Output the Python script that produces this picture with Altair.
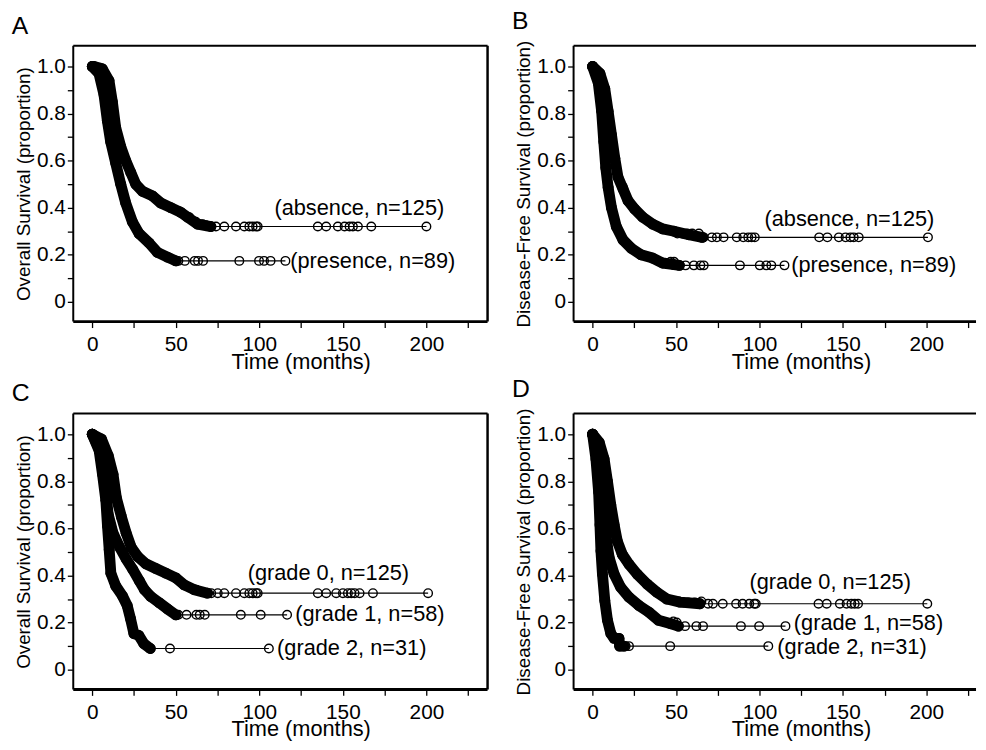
import altair as alt
import pandas as pd

FONT = "Liberation Sans"

# axis extents
X_MIN = -11.4
X_MAX_LEFT = 236.6     # panels A, C (full frame)
X_MAX_RIGHT = 229.8    # panels B, D (cut off at the page edge)
Y_MIN = -0.084
Y_MAX = 1.088
X_TICKS = [0, 25, 50, 75, 100, 125, 150, 175, 200, 225]
Y_TICKS = [0, 0.1, 0.2, 0.3, 0.4, 0.5, 0.6, 0.7, 0.8, 0.9, 1.0]

# ---------------- Panel A : Overall survival, absence / presence ----------------
A_abs_t = [0, 1, 6, 10, 12, 14, 17, 20, 23, 26, 30, 36, 41, 47, 53, 57, 63, 71]
A_abs_s = [1.0, 1.0, 0.99, 0.94, 0.85, 0.74, 0.66, 0.60, 0.55, 0.50, 0.47, 0.45, 0.42, 0.40, 0.38, 0.36, 0.33, 0.32]
A_abs_end = [200, 0.32]
A_abs_ct = [0, 47, 52, 58, 62, 66, 68, 74, 79, 86, 91, 94, 96, 98, 99, 135, 140, 147, 151, 154, 156, 159, 167, 200]
A_abs_cs = [1.0, 0.40, 0.385, 0.36, 0.34, 0.33, 0.325, 0.32, 0.32, 0.32, 0.32, 0.32, 0.32, 0.32, 0.32, 0.32, 0.32, 0.32, 0.32, 0.32, 0.32, 0.32, 0.32, 0.32]

A_pre_t = [0, 4, 7, 9, 11, 14, 17, 20, 24, 28, 34, 39, 45, 50]
A_pre_s = [1.0, 0.97, 0.88, 0.77, 0.68, 0.59, 0.50, 0.42, 0.34, 0.29, 0.25, 0.21, 0.19, 0.174]
A_pre_end = [115.6, 0.174]
A_pre_ct = [51.5, 55.4, 61.3, 63.3, 66.3, 88, 99.8, 102.8, 106.7, 115.6]
A_pre_cs = [0.174, 0.174, 0.174, 0.174, 0.174, 0.174, 0.174, 0.174, 0.174, 0.174]

A_lab_text = ["(absence, n=125)", "(presence, n=89)"]
A_lab_t = [109, 118.5]
A_lab_s = [0.40, 0.172]

# ---------------- Panel B : Disease-free survival, absence / presence ----------------
B_abs_t = [0, 4.4, 7.3, 9.3, 11.3, 13.3, 15.2, 18.2, 21.2, 25.1, 30, 36, 42, 48.8, 57.7, 65.7]
B_abs_s = [1.0, 0.97, 0.905, 0.81, 0.71, 0.61, 0.53, 0.48, 0.43, 0.395, 0.36, 0.33, 0.31, 0.30, 0.285, 0.274]
B_abs_end = [201, 0.274]
B_abs_ct = [18, 50.8, 53.8, 56.7, 59.7, 63.7, 66.6, 71.5, 74.5, 78.5, 86.4, 90.3, 93.3, 95.3, 97.2, 135.8, 140.7, 147.6, 151.6, 154.5, 156.5, 159.5, 201]
B_abs_cs = [0.49, 0.29, 0.29, 0.29, 0.29, 0.29, 0.274, 0.274, 0.274, 0.274, 0.274, 0.274, 0.274, 0.274, 0.274, 0.274, 0.274, 0.274, 0.274, 0.274, 0.274, 0.274, 0.274]

B_pre_t = [0, 3.4, 5.4, 6.7, 7.9, 9.3, 11.3, 14.2, 18.2, 23.1, 29, 36, 42, 48.8, 52]
B_pre_s = [1.0, 0.93, 0.81, 0.68, 0.57, 0.486, 0.40, 0.32, 0.263, 0.228, 0.20, 0.186, 0.165, 0.158, 0.155]
B_pre_end = [115, 0.155]
B_pre_ct = [46.8, 48.8, 55.7, 60.7, 64.6, 66.6, 88.3, 100.2, 104.1, 107.1, 115]
B_pre_cs = [0.17, 0.17, 0.155, 0.155, 0.155, 0.155, 0.155, 0.155, 0.155, 0.155, 0.155]

B_lab_text = ["(absence, n=125)", "(presence, n=89)"]
B_lab_t = [103, 119]
B_lab_s = [0.35, 0.158]

# ---------------- Panel C : Overall survival by grade ----------------
C_g0_t = [0, 5.5, 9.5, 12.4, 14.4, 17.4, 20.3, 23.3, 27.2, 32, 38, 44, 50, 55, 61, 69]
C_g0_s = [1.0, 0.98, 0.91, 0.83, 0.73, 0.65, 0.58, 0.52, 0.48, 0.45, 0.43, 0.41, 0.39, 0.36, 0.34, 0.325]
C_g0_end = [201, 0.325]
C_g0_ct = [0, 62.3, 71.2, 75.1, 79, 86, 91, 94, 96, 98, 99, 135, 140, 146, 150, 153, 155, 157, 160, 168, 201]
C_g0_cs = [1.0, 0.34, 0.325, 0.325, 0.325, 0.325, 0.325, 0.325, 0.325, 0.325, 0.325, 0.325, 0.325, 0.325, 0.325, 0.325, 0.325, 0.325, 0.325, 0.325, 0.325]

C_g1_t = [0, 4.6, 7.6, 9.5, 12.4, 16.4, 20.3, 24.3, 28.2, 31.2, 35.1, 40, 45, 50]
C_g1_s = [1.0, 0.93, 0.79, 0.66, 0.58, 0.52, 0.47, 0.425, 0.377, 0.34, 0.31, 0.285, 0.258, 0.233]
C_g1_end = [116.6, 0.233]
C_g1_ct = [51.5, 56.4, 62.3, 64.3, 67.3, 88.9, 100.8, 116.6]
C_g1_cs = [0.233, 0.233, 0.233, 0.233, 0.233, 0.233, 0.233, 0.233]

C_g2_t = [0, 4.1, 6.1, 8.1, 9.1, 10.1, 11.1, 14, 18, 20.9, 22.9, 24.9, 27.8, 30.8, 34.7]
C_g2_s = [1.0, 0.93, 0.83, 0.72, 0.61, 0.51, 0.41, 0.356, 0.314, 0.272, 0.216, 0.153, 0.146, 0.111, 0.09]
C_g2_end = [105.7, 0.09]
C_g2_ct = [46.5, 105.7]
C_g2_cs = [0.09, 0.09]

C_lab_text = ["(grade 0, n=125)", "(grade 1, n=58)", "(grade 2, n=31)"]
C_lab_t = [93, 121.5, 110.6]
C_lab_s = [0.41, 0.237, 0.09]

# ---------------- Panel D : Disease-free survival by grade ----------------
D_g0_t = [0, 4, 6.9, 8.9, 10.9, 12.9, 14.8, 17.8, 21.8, 26.7, 32.6, 38.5, 44.5, 52.4, 64.3]
D_g0_s = [1.0, 0.965, 0.895, 0.80, 0.70, 0.616, 0.546, 0.49, 0.448, 0.406, 0.364, 0.329, 0.30, 0.287, 0.28]
D_g0_end = [200.6, 0.28]
D_g0_ct = [17.5, 51.4, 54.4, 57.3, 61.3, 65.2, 69.2, 72.1, 78, 86, 89.9, 93.9, 96.9, 97.8, 135.4, 140.3, 148.2, 152.2, 155.1, 157.1, 159.1, 200.6]
D_g0_cs = [0.49, 0.29, 0.285, 0.285, 0.285, 0.29, 0.28, 0.28, 0.28, 0.28, 0.28, 0.28, 0.28, 0.28, 0.28, 0.28, 0.28, 0.28, 0.28, 0.28, 0.28, 0.28]

D_g1_t = [0, 3, 5, 6.3, 7.9, 9.9, 12.9, 16.8, 21.8, 27.7, 33.6, 39.5, 46.5, 51.4]
D_g1_s = [1.0, 0.923, 0.80, 0.686, 0.574, 0.476, 0.406, 0.35, 0.308, 0.273, 0.245, 0.21, 0.196, 0.185]
D_g1_end = [115.6, 0.185]
D_g1_ct = [48.4, 50.4, 55.4, 62.2, 66.2, 88.9, 99.8, 115.6]
D_g1_cs = [0.205, 0.2, 0.185, 0.185, 0.185, 0.185, 0.185, 0.185]

D_g2_t = [0, 2, 3.6, 4.4, 5, 5.9, 7.3, 8.9, 10.9, 12.9, 15.8, 16.2, 18.8]
D_g2_s = [1.0, 0.895, 0.755, 0.616, 0.504, 0.406, 0.294, 0.21, 0.154, 0.133, 0.133, 0.10, 0.10]
D_g2_end = [105.3, 0.10]
D_g2_ct = [19.8, 21.8, 46.5, 105.3]
D_g2_cs = [0.10, 0.10, 0.10, 0.10]

D_lab_text = ["(grade 0, n=125)", "(grade 1, n=58)", "(grade 2, n=31)"]
D_lab_t = [94, 120.6, 110.7]
D_lab_s = [0.371, 0.196, 0.098]


def frames(curves):
    ev, path, cens = [], [], []
    for name, (t, s, end, ct, cs) in curves.items():
        for a, b in zip(t, s):
            ev.append({"g": name, "t": a, "s": b})
            path.append({"g": name, "t": a, "s": b})
        path.append({"g": name, "t": end[0], "s": end[1]})
        for a, b in zip(ct, cs):
            cens.append({"g": name, "t": a, "s": b})
    return pd.DataFrame(ev), pd.DataFrame(path), pd.DataFrame(cens)


def panel(letter, ytitle, curves, lab_text, lab_t, lab_s, xmax, width, right_border):
    ev, path, cens = frames(curves)
    labs = pd.DataFrame({"text": lab_text, "t": lab_t, "s": lab_s})

    x_axis = alt.Axis(
        title="Time (months)", values=X_TICKS, domain=False,
        labelExpr="datum.value % 50 == 0 ? datum.label : ''",
        titleX=230, titleY=47, titleBaseline="alphabetic",
    )
    y_axis = alt.Axis(
        title=ytitle, values=Y_TICKS, domain=False,
        labelExpr="datum.value < 0.01 ? '0' : (round(datum.value * 10) % 2 == 0 ? format(datum.value, '.1f') : '')",
    )
    xs = alt.Scale(domain=[X_MIN, xmax], nice=False, zero=False)
    ys = alt.Scale(domain=[Y_MIN, Y_MAX], nice=False, zero=False)
    X = alt.X("t:Q", scale=xs, axis=x_axis)
    Y = alt.Y("s:Q", scale=ys, axis=y_axis)

    thin = alt.Chart(path).mark_line(color="black", strokeWidth=1.2).encode(x=X, y=Y, detail="g:N")
    band = alt.Chart(ev).mark_line(color="black", strokeWidth=11, strokeCap="round", strokeJoin="round").encode(
        x=X, y=Y, detail="g:N")
    dots = alt.Chart(ev).mark_circle(color="black", size=120, opacity=1).encode(x=X, y=Y)
    opens = alt.Chart(cens).mark_point(shape="circle", filled=False, color="black", size=75,
                                       strokeWidth=1.4, opacity=1).encode(x=X, y=Y)
    texts = alt.Chart(labs).mark_text(align="left", baseline="middle", fontSize=22, font=FONT,
                                      color="black").encode(x=X, y=Y, text="text:N")
    # frame edges drawn as rules at the scale limits
    top = alt.Chart(pd.DataFrame({"s": [Y_MAX]})).mark_rule(color="black", strokeWidth=2).encode(y=Y)
    bottom = alt.Chart(pd.DataFrame({"s": [Y_MIN]})).mark_rule(color="black", strokeWidth=3).encode(y=Y)
    left = alt.Chart(pd.DataFrame({"t": [X_MIN]})).mark_rule(color="black", strokeWidth=2).encode(x=X)
    layers = [thin, band, dots, opens, texts, top, bottom, left]
    if right_border:
        layers.append(alt.Chart(pd.DataFrame({"t": [xmax]})).mark_rule(color="black", strokeWidth=2.5).encode(x=X))
    return alt.layer(*layers).properties(
        width=width, height=279,
        title=alt.TitleParams(letter, anchor="start", frame="bounds", fontSize=25, fontWeight="normal",
                              font=FONT, color="black", baseline="top", offset=6, dx=-3),
    )


pA = panel("A", "Overall Survival (proportion)",
           {"absence": (A_abs_t, A_abs_s, A_abs_end, A_abs_ct, A_abs_cs),
            "presence": (A_pre_t, A_pre_s, A_pre_end, A_pre_ct, A_pre_cs)},
           A_lab_text, A_lab_t, A_lab_s, X_MAX_LEFT, 419, True)
pB = panel("B", "Disease-Free Survival (proportion)",
           {"absence": (B_abs_t, B_abs_s, B_abs_end, B_abs_ct, B_abs_cs),
            "presence": (B_pre_t, B_pre_s, B_pre_end, B_pre_ct, B_pre_cs)},
           B_lab_text, B_lab_t, B_lab_s, X_MAX_RIGHT, 407, False)
pC = panel("C", "Overall Survival (proportion)",
           {"g0": (C_g0_t, C_g0_s, C_g0_end, C_g0_ct, C_g0_cs),
            "g1": (C_g1_t, C_g1_s, C_g1_end, C_g1_ct, C_g1_cs),
            "g2": (C_g2_t, C_g2_s, C_g2_end, C_g2_ct, C_g2_cs)},
           C_lab_text, C_lab_t, C_lab_s, X_MAX_LEFT, 419, True)
pD = panel("D", "Disease-Free Survival (proportion)",
           {"g0": (D_g0_t, D_g0_s, D_g0_end, D_g0_ct, D_g0_cs),
            "g1": (D_g1_t, D_g1_s, D_g1_end, D_g1_ct, D_g1_cs),
            "g2": (D_g2_t, D_g2_s, D_g2_end, D_g2_ct, D_g2_cs)},
           D_lab_text, D_lab_t, D_lab_s, X_MAX_RIGHT, 407, False)

chart = alt.vconcat(
    alt.hconcat(pA, pB, spacing=22),
    alt.hconcat(pC, pD, spacing=22),
    spacing=5,
).properties(
    padding={"left": 3, "top": -3, "right": 0, "bottom": 0},
    background="white",
).configure_view(stroke=None).configure_axis(
    grid=False,
    tickColor="black", tickWidth=1.3, tickSize=6,
    labelColor="black", labelFont=FONT, labelFontSize=21, labelPadding=2,
    labelOverlap=False, labelFlush=False, labelBound=False,
    titleColor="black", titleFont=FONT, titleFontSize=19, titleFontWeight="normal", titlePadding=3,
).configure_axisX(labelPadding=6, titleFontSize=22)

chart.save("out.html", embed_options={"renderer": "svg", "actions": False})
